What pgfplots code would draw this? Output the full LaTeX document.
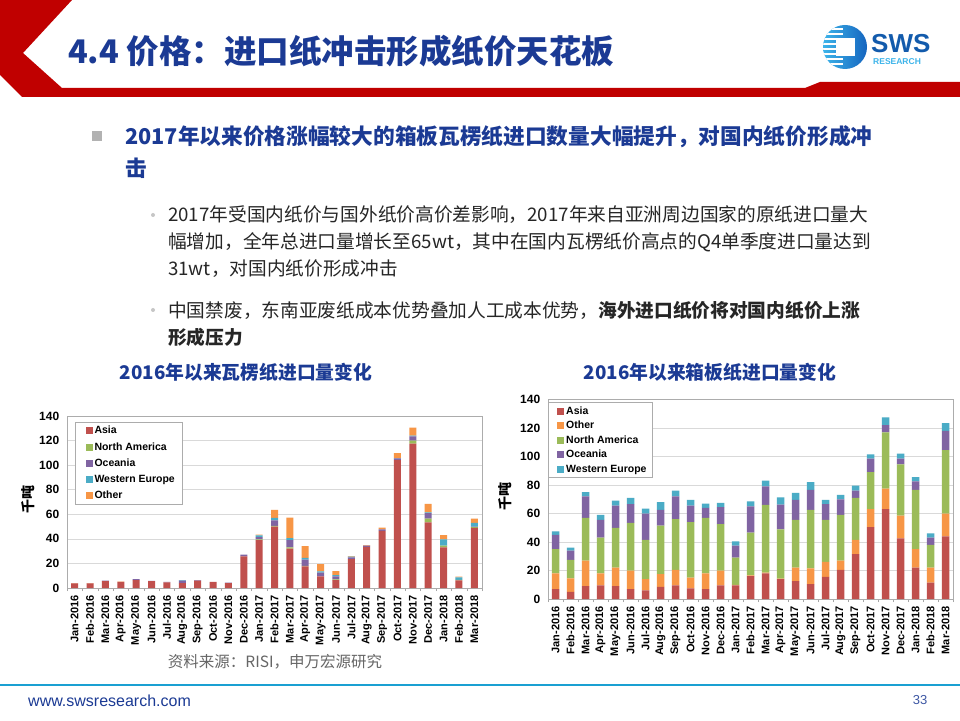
\documentclass[border=0pt]{standalone}
\usepackage{fontspec}
\setmainfont{Liberation Sans}
\newfontfamily\cjk{Noto Sans CJK SC}
\usepackage{pgfplots}
\pgfplotsset{compat=1.18}
\usepackage{pgfplotstable}

\newcommand\fsz[1]{\fontsize{#1}{#1}\selectfont}

\definecolor{asia}{HTML}{C0504D}
\definecolor{namer}{HTML}{9BBB59}
\definecolor{ocean}{HTML}{8064A2}
\definecolor{weur}{HTML}{4BACC6}
\definecolor{other}{HTML}{F79646}
\definecolor{swsred}{HTML}{C00000}
\definecolor{swsblue}{HTML}{1B3A94}
\definecolor{lineblue}{HTML}{1AA0D2}
\definecolor{logolight}{HTML}{3DB4EA}
\definecolor{logodark}{HTML}{1565BF}
\definecolor{bodytext}{HTML}{262626}

% corrugated (瓦楞纸) imports, kt
\pgfplotstableread{
x asia namer ocean weur other
0  3.8  0   0   0   0.2
1  3.8  0   0   0   0.2
2  5.5  0   0.5 0   0
3  5.0  0   0   0   0.1
4  6.5  0   0.8 0   0
5  5.5  0   0.2 0   0
6  4.5  0   0.5 0   0
7  4.0  0   2.0 0.5 0
8  6.0  0   0.5 0   0
9  5.0  0   0   0   0
10 4.0  0   0.3 0   0
11 25.7 0   1.5 0   0
12 39.0 0.5 2.0 1.3 0.6
13 50.0 0.5 4.5 2.0 6.5
14 32.0 1.0 6.0 1.6 16.6
15 17.6 0.5 5.0 1.4 9.5
16 9.5  0   3.0 1.0 6.0
17 6.5  0.5 2.5 1.0 3.3
18 23.5 0   1.5 0.5 0.5
19 33.5 0   1.0 0   0.3
20 46.5 0   1.3 0   1.4
21 104  0   1.5 0.3 4.0
22 117.5 2.5 3.5 0.5 6.5
23 53.5 3.0 4.5 0.5 7.0
24 33.0 1.5 0   5.0 3.5
25 6.2  0.5 0   2.0 0.5
26 49.0 0.5 0.5 3.0 3.5
}\corrugated

% containerboard (箱板纸) imports, kt
\pgfplotstableread{
x asia other namer ocean weur
0  7    11   17   10   2.5
1  5    9.5  13   6.5  2
2  9    18   30   15   3
3  9.5  8.5  25   12.5 3.5
4  9    13   28   15.5 3.5
5  7    13   33.5 13   4.5
6  6    8    27.5 18.5 3.5
7  8.5  9    34   11   5.5
8  9.5  11   35.5 16   4
9  7.5  7.5  39   11.5 4
10 7    11   39   7    3
11 9.5  10.5 32.5 12   3
12 9.5  0.5  19   8.5  3
13 16   0.5  30   18.5 3.5
14 18   0.5  47.5 13   4
15 14   0.3  34.5 17.5 5
16 12.5 9.5  33.5 14   5
17 10.5 11   41   14   5.5
18 15.5 10.5 29.5 11   3
19 20.5 6.5  32   11   3
20 31.5 10   29.5 5    3.5
21 50.5 12.5 26   9.5  3
22 63   14.5 39.5 5    5.5
23 42.5 16   36   4    3.5
24 22   13   41.5 6    3
25 11.5 10.5 16   5    3
26 44   16   44.5 13.5 5.5
}\boxboard

\pgfplotsset{
  barsq/.style={fill=#1, draw=none,
    legend image code/.code={\path (0pt,0pt); \fill[##1] (5pt,-3.5pt) rectangle (12pt,3.5pt);}},
  excelbar/.style={
    scale only axis, ybar stacked,
    xmin=-0.5, xmax=26.5, ymin=0, ymax=140,
    ytick={0,20,...,140}, xtick={0,...,26},
    xticklabels={Jan-2016,Feb-2016,Mar-2016,Apr-2016,May-2016,Jun-2016,Jul-2016,Aug-2016,Sep-2016,Oct-2016,Nov-2016,Dec-2016,Jan-2017,Feb-2017,Mar-2017,Apr-2017,May-2017,Jun-2017,Jul-2017,Aug-2017,Sep-2017,Oct-2017,Nov-2017,Dec-2017,Jan-2018,Feb-2018,Mar-2018},
    minor xtick={-0.5,0.5,...,26.5},
    major x tick style={draw=none},
    ytick style={draw=none},
    minor x tick style={draw=gray!70},
    minor tick length=3pt, tick align=outside, tick pos=left,
    ymajorgrids, major grid style={gray!30, line width=0.6pt},
    axis line style={gray!65, line width=0.8pt},
    xticklabel style={rotate=90, anchor=east, font=\bfseries\fsz{11}, inner sep=3pt},
    yticklabel style={font=\bfseries\fsz{12}},
    /pgf/number format/assume math mode=true,
    legend style={draw=gray!65, fill=white, font=\bfseries\fsz{10.5},
      legend cell align=left, inner xsep=3pt, inner ysep=2pt},
  }
}

\begin{document}
\begin{tikzpicture}
\path[use as bounding box] (0,0) rectangle (960pt,720pt);
\fill[white] (0,0) rectangle (960pt,720pt);

\begin{scope}[x=1pt,y=1pt]
  % header band
  \fill[swsred] (0,720) -- (72,720) -- (23,667) -- (62,632) -- (805,632) -- (820,638)
    -- (960,638) -- (960,623) -- (22,623) -- (0,645) -- cycle;
  \node[anchor=base west, inner sep=0, text=swsblue, font=\cjk\bfseries\fsz{32.5}]
    at (68,656) {4.4 价格：进口纸冲击形成纸价天花板};

  % logo
  \begin{scope}
    \clip (845,673) circle (22);
    \shade[left color=logolight, right color=logodark] (823,651) rectangle (867,695);
    \foreach \yy in {655,660,...,690} \fill[white] (820,\yy) rectangle (843,\yy+2.2);
  \end{scope}
  \fill[white] (836,664) rectangle (855,682);
  \node[anchor=base west, inner sep=0, text=logodark!90!black, font=\bfseries\fsz{26}] at (871,667.5) {SWS};
  \node[anchor=base west, inner sep=0, text=logolight, font=\bfseries\fsz{8.5}] at (873,655.5) {RESEARCH};

  % bullets
  \fill[gray!60] (92,579) rectangle (102,589);
  \node[anchor=west, inner sep=0, text=swsblue, font=\cjk\bfseries\fsz{21.7}] at (125,583)
    {2017年以来价格涨幅较大的箱板瓦楞纸进口数量大幅提升，对国内纸价形成冲};
  \node[anchor=west, inner sep=0, text=swsblue, font=\cjk\bfseries\fsz{21.7}] at (125,552) {击};

  \fill[gray!45] (153,505) circle (2);
  \begin{scope}[every node/.style={anchor=west, inner sep=0, text=bodytext, font=\cjk\fsz{18.7}}]
    \node at (168,505) {2017年受国内纸价与国外纸价高价差影响，2017年来自亚洲周边国家的原纸进口量大};
    \node at (168,478) {幅增加，全年总进口量增长至65wt，其中在国内瓦楞纸价高点的Q4单季度进口量达到};
    \node at (168,451) {31wt，对国内纸价形成冲击};
    \node at (168,410) {中国禁废，东南亚废纸成本优势叠加人工成本优势，\bfseries 海外进口纸价将对国内纸价上涨};
    \node at (168,383) {\bfseries 形成压力};
  \end{scope}
  \fill[gray!45] (153,410) circle (2);

  % chart titles
  \node[inner sep=0, text=swsblue, font=\cjk\bfseries\fsz{18.8}] at (246,348) {2016年以来瓦楞纸进口量变化};
  \node[inner sep=0, text=swsblue, font=\cjk\bfseries\fsz{18.8}] at (710,348) {2016年以来箱板纸进口量变化};

  % y labels
  \node[rotate=90, inner sep=0, font=\cjk\bfseries\fsz{14}] at (28,220) {千吨};
  \node[rotate=90, inner sep=0, font=\cjk\bfseries\fsz{14}] at (505,223) {千吨};

  % source and footer
  \node[inner sep=0, text=gray!80!black, font=\cjk\fsz{15.5}] at (275,58) {资料来源：RISI，申万宏源研究};
  \draw[lineblue, line width=2pt] (0,35) -- (960,35);
  \node[anchor=west, inner sep=0, text=swsblue, font=\fsz{16}] at (28,19) {www.swsresearch.com};
  \node[inner sep=0, text=swsblue!85, font=\fsz{13}] at (920,20) {33};
\end{scope}

% left chart: corrugated
\begin{axis}[excelbar, at={(67pt,132pt)}, anchor=south west,
  width=415pt, height=172pt, bar width=7pt,
  legend style={at={(0.02,0.965)}, anchor=north west, row sep=3.2pt, inner xsep=5pt}]
  \addplot[barsq=asia]  table[x=x,y=asia]  {\corrugated};
  \addplot[barsq=namer] table[x=x,y=namer] {\corrugated};
  \addplot[barsq=ocean] table[x=x,y=ocean] {\corrugated};
  \addplot[barsq=weur]  table[x=x,y=weur]  {\corrugated};
  \addplot[barsq=other] table[x=x,y=other] {\corrugated};
  \legend{Asia,North America,Oceania,Western Europe,Other}
\end{axis}

% right chart: containerboard
\begin{axis}[excelbar, at={(548pt,121pt)}, anchor=south west,
  width=405pt, height=199.5pt, bar width=7.5pt,
  legend style={at={(0,0.986)}, anchor=north west, row sep=1.5pt, inner xsep=4pt}]
  \addplot[barsq=asia]  table[x=x,y=asia]  {\boxboard};
  \addplot[barsq=other] table[x=x,y=other] {\boxboard};
  \addplot[barsq=namer] table[x=x,y=namer] {\boxboard};
  \addplot[barsq=ocean] table[x=x,y=ocean] {\boxboard};
  \addplot[barsq=weur]  table[x=x,y=weur]  {\boxboard};
  \legend{Asia,Other,North America,Oceania,Western Europe}
\end{axis}
\end{tikzpicture}
\end{document}
